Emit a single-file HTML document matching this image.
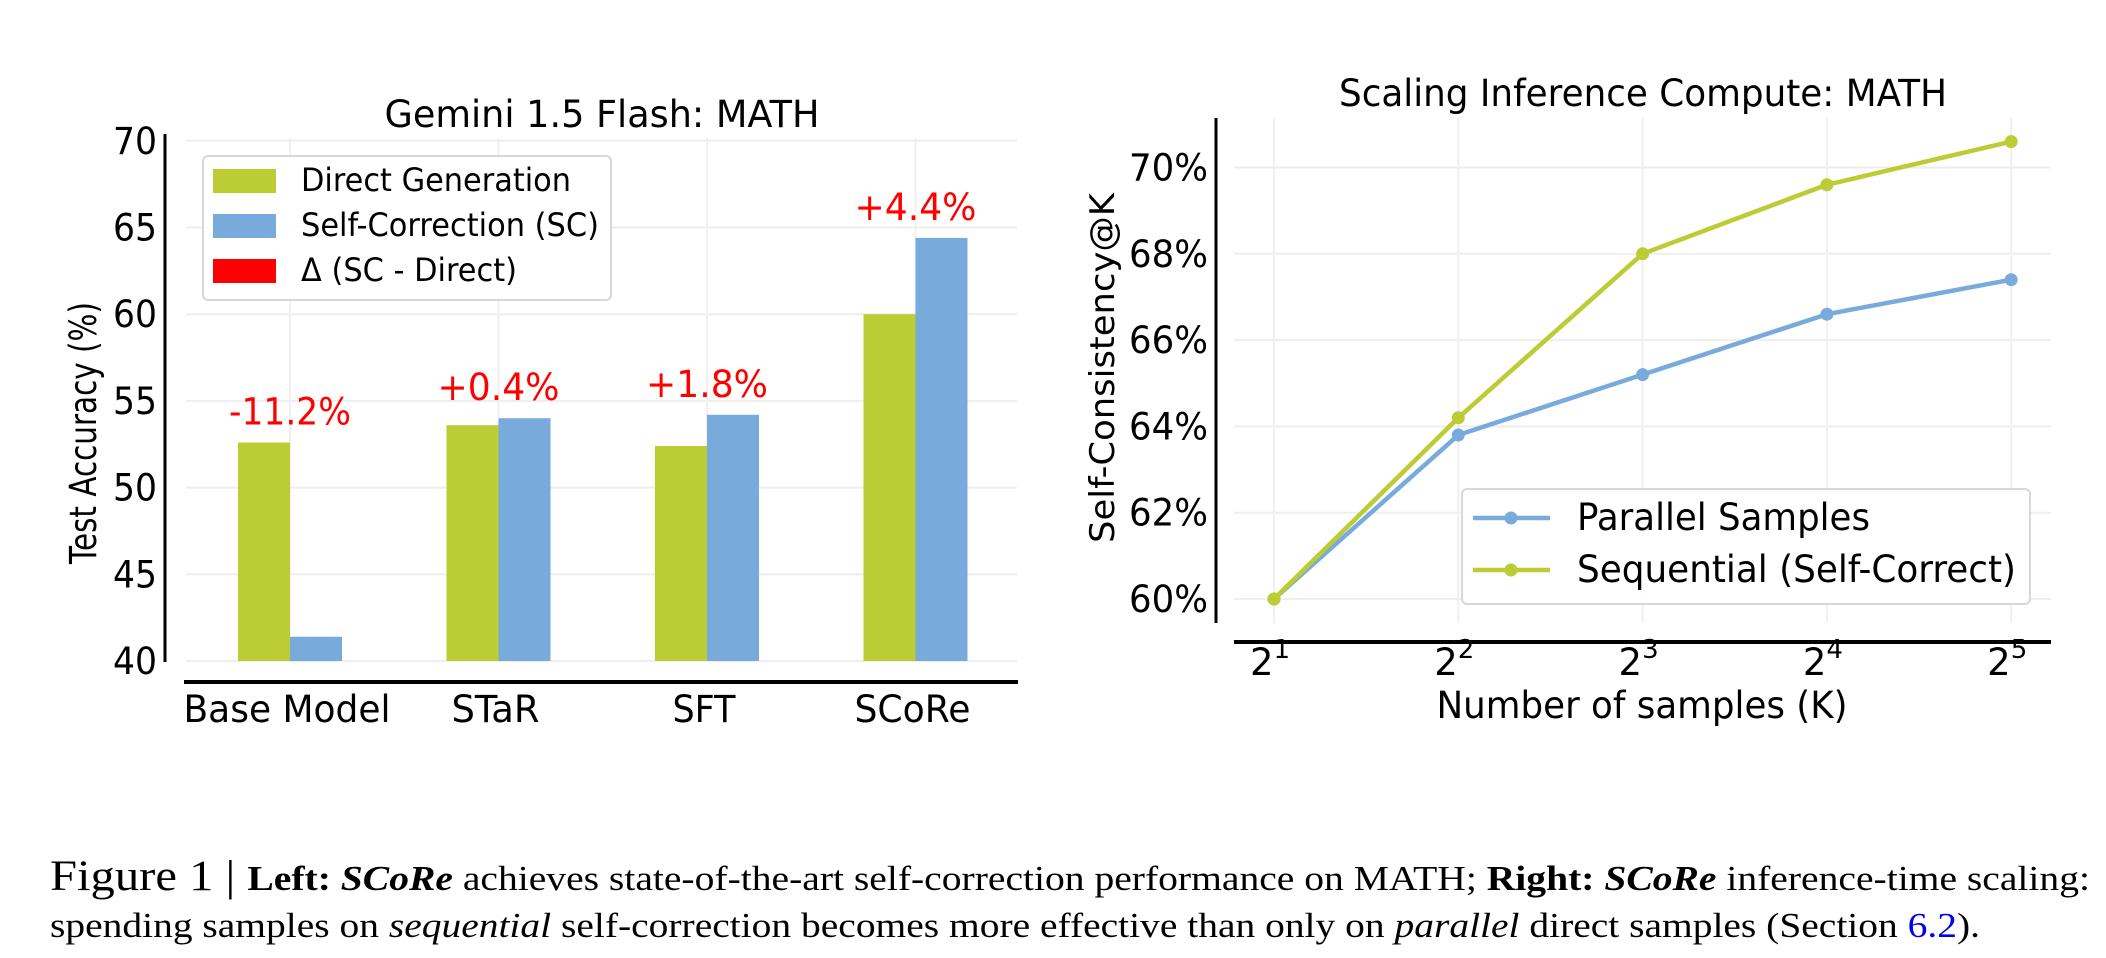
<!DOCTYPE html>
<html><head><meta charset="utf-8"><style>
html,body{margin:0;padding:0;background:#fff;}
svg{display:block;}
text{font-family:"DejaVu Sans","Liberation Sans",sans-serif;}
.cap{font-family:"Liberation Serif","DejaVu Serif",serif;}
</style></head><body>
<svg id="fig" width="2106" height="958" viewBox="0 0 2106 958" xmlns="http://www.w3.org/2000/svg">
<g id="left"></g>
<g id="right"></g>
<g>
<text class="cap" x="50" y="890" font-size="35" textLength="2040" lengthAdjust="spacingAndGlyphs"><tspan font-size="43">Figure 1 | </tspan><tspan font-weight="bold">Left: </tspan><tspan font-weight="bold" font-style="italic">SCoRe</tspan> achieves state-of-the-art self-correction performance on MATH; <tspan font-weight="bold">Right: </tspan><tspan font-weight="bold" font-style="italic">SCoRe</tspan> inference-time scaling:</text>
<text class="cap" x="50" y="937" font-size="35" textLength="1930" lengthAdjust="spacingAndGlyphs">spending samples on <tspan font-style="italic">sequential</tspan> self-correction becomes more effective than only on <tspan font-style="italic">parallel</tspan> direct samples (Section <tspan fill="#0000ee">6.2</tspan>).</text>
</g>
</svg>
<script>
// Left chart data
const leftCategories = ["Base Model", "STaR", "SFT", "SCoRe"];
const directValues = [52.6, 53.6, 52.4, 60.0];
const selfCorrectValues = [41.4, 54.0, 54.2, 64.4];
const deltaLabels = ["-11.2%", "+0.4%", "+1.8%", "+4.4%"];
const leftTicks = [40, 45, 50, 55, 60, 65, 70];
// Right chart data
const rightExponents = [1, 2, 3, 4, 5];
const parallelValues = [60.0, 63.8, 65.2, 66.6, 67.4];
const sequentialValues = [60.0, 64.2, 68.0, 69.6, 70.6];
const rightTicks = [60, 62, 64, 66, 68, 70];

const NS = "http://www.w3.org/2000/svg";
function mk(parent, tag, attrs, txt){
  const e = document.createElementNS(NS, tag);
  for (const k in attrs) e.setAttribute(k, attrs[k]);
  if (txt !== undefined) e.textContent = txt;
  parent.appendChild(e);
  return e;
}
const GREEN = "#bccc34", BLUE = "#78aadc";

// ---------- Left ----------
const L = document.getElementById("left");
const ly = v => 661 - (v - 40) * 17.34;
const lx = i => 290 + i * 208.5;
const barW = 52;
leftTicks.forEach(t => {
  const g = mk(L, "line", {x1:186, x2:1017, y1:ly(t), y2:ly(t), stroke:"#eeeeee", "stroke-width":2});
  
  
  const tl = mk(L, "text", {x:157, y:ly(t)+13, "font-size":37, "text-anchor":"end", textLength:44, lengthAdjust:"spacingAndGlyphs"}, String(t));
  
  
});
leftCategories.forEach((c, i) => {
  const g = mk(L, "line", {x1:lx(i), x2:lx(i), y1:138, y2:661, stroke:"#f0f0f0", "stroke-width":2});
  
  
});
const widths = [207, 88, 63, 116];
leftCategories.forEach((c, i) => {
  const b1 = mk(L, "rect", {x:lx(i)-barW, y:ly(directValues[i]), width:barW, height:ly(40)-ly(directValues[i]), fill:GREEN});
  
  
  const b2 = mk(L, "rect", {x:lx(i), y:ly(selfCorrectValues[i]), width:barW, height:ly(40)-ly(selfCorrectValues[i]), fill:BLUE});
  
  
  const top = Math.max(directValues[i], selfCorrectValues[i]);
  const dl = mk(L, "text", {x:lx(i), y:ly(top)-18, "font-size":37, fill:"#ff0000", "text-anchor":"middle", textLength:122, lengthAdjust:"spacingAndGlyphs"}, deltaLabels[i]);
  
  
  const xl = mk(L, "text", {x:lx(i)-3, y:722, "font-size":37, "text-anchor":"middle", textLength:widths[i], lengthAdjust:"spacingAndGlyphs"}, c);
  
  
});
let e;
e = mk(L, "line", {x1:165, x2:165, y1:134, y2:662, stroke:"#000", "stroke-width":3});


e = mk(L, "line", {x1:184, x2:1018, y1:682, y2:682, stroke:"#000", "stroke-width":4});


e = mk(L, "text", {x:602, y:127, "font-size":37, "text-anchor":"middle", textLength:435, lengthAdjust:"spacingAndGlyphs"}, "Gemini 1.5 Flash: MATH");


e = mk(L, "text", {x:0, y:0, "font-size":37, "text-anchor":"middle", transform:"translate(96,433) rotate(-90)", textLength:262, lengthAdjust:"spacingAndGlyphs"}, "Test Accuracy (%)");


const lg = mk(L, "g", {});


mk(lg, "rect", {x:203, y:156, width:408, height:144, rx:5, fill:"#fff", "fill-opacity":0.9, stroke:"#d8d8d8", "stroke-width":2});
const legItems = [["Direct Generation", GREEN, 270], ["Self-Correction (SC)", BLUE, 298], ["Δ (SC - Direct)", "#ff0000", 216]];
legItems.forEach((it, k) => {
  const r = mk(lg, "rect", {x:213, y:169 + k*45, width:63, height:24, fill:it[1]});
  
  
  const t = mk(lg, "text", {x:301, y:191 + k*45, "font-size":32, textLength:it[2], lengthAdjust:"spacingAndGlyphs"}, it[0]);
  
  
});

// ---------- Right ----------
const R = document.getElementById("right");
const ry = v => 599 - (v - 60) * 43.15;
const rx = i => 1274 + i * 184.3;
rightTicks.forEach(t => {
  const g = mk(R, "line", {x1:1234, x2:2051, y1:ry(t), y2:ry(t), stroke:"#eeeeee", "stroke-width":2});
  
  
  const tl = mk(R, "text", {x:1208, y:ry(t)+13, "font-size":37, "text-anchor":"end", textLength:79, lengthAdjust:"spacingAndGlyphs"}, t + "%");
  
  
});
rightExponents.forEach((p, i) => {
  const g = mk(R, "line", {x1:rx(i), x2:rx(i), y1:118, y2:623, stroke:"#f0f0f0", "stroke-width":2});
  
  
  const tl = mk(R, "text", {x:rx(i)-4, y:675, "font-size":37, "text-anchor":"middle"});
  
  
  mk(tl, "tspan", {}, "2");
  mk(tl, "tspan", {"font-size":26, dy:-17}, String(p));
});
function series(vals, color, name){
  const g = mk(R, "g", {});
  
  
  const pts = vals.map((v, i) => rx(i) + "," + ry(v)).join(" ");
  mk(g, "polyline", {points:pts, fill:"none", stroke:color, "stroke-width":4.5, "stroke-linejoin":"round"});
  vals.forEach((v, i) => {
    const c = mk(g, "circle", {cx:rx(i), cy:ry(v), r:6.5, fill:color});
    
    
  });
}
series(parallelValues, BLUE, "parallel-samples-line");
series(sequentialValues, GREEN, "sequential-line");
e = mk(R, "line", {x1:1216, x2:1216, y1:118, y2:623, stroke:"#000", "stroke-width":3});


e = mk(R, "line", {x1:1234, x2:2051, y1:642, y2:642, stroke:"#000", "stroke-width":4});


e = mk(R, "text", {x:1643, y:106, "font-size":37, "text-anchor":"middle", textLength:608, lengthAdjust:"spacingAndGlyphs"}, "Scaling Inference Compute: MATH");


e = mk(R, "text", {x:1642, y:718, "font-size":37, "text-anchor":"middle", textLength:411, lengthAdjust:"spacingAndGlyphs"}, "Number of samples (K)");


e = mk(R, "text", {x:0, y:0, "font-size":34, "text-anchor":"middle", transform:"translate(1114,368) rotate(-90)", textLength:350, lengthAdjust:"spacingAndGlyphs"}, "Self-Consistency@K");


const rg = mk(R, "g", {});


mk(rg, "rect", {x:1462, y:489, width:568, height:115, rx:5, fill:"#fff", "fill-opacity":0.9, stroke:"#d8d8d8", "stroke-width":2});
[["Parallel Samples", BLUE, 293], ["Sequential (Self-Correct)", GREEN, 439]].forEach((it, k) => {
  const yy = 518 + k*52;
  mk(rg, "line", {x1:1473, x2:1550, y1:yy, y2:yy, stroke:it[1], "stroke-width":4.5});
  mk(rg, "circle", {cx:1511, cy:yy, r:6.5, fill:it[1]});
  const t = mk(rg, "text", {x:1577, y:yy+12, "font-size":37, textLength:it[2], lengthAdjust:"spacingAndGlyphs"}, it[0]);
  
  
});
</script>
</body></html>
